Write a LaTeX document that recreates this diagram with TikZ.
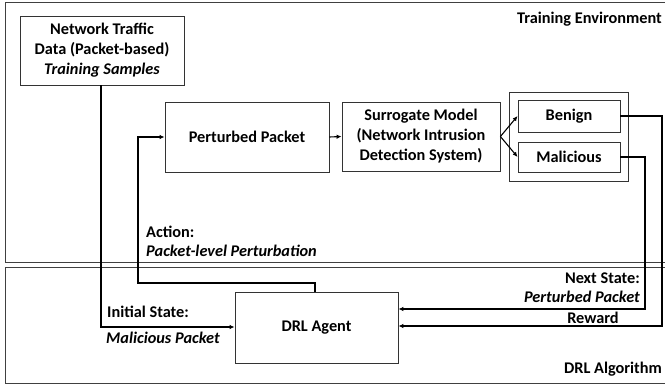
\documentclass[tikz,border=0pt]{standalone}
\usepackage{fontspec}
\setmainfont{Carlito}
\usetikzlibrary{arrows.meta}
\begin{document}
\begin{tikzpicture}[x=1pt,y=-1pt,
  box/.style={draw=black!80,line width=0.8pt,fill=white,inner sep=0pt},
  region/.style={draw=black!75,line width=0.8pt},
  conn/.style={line width=1.1pt,-{Latex[length=5pt,width=4.5pt]}},
  txt/.style={font=\bfseries\fontsize{16.3}{20}\selectfont,align=center,inner sep=0pt},
  lbl/.style={font=\bfseries\fontsize{16.3}{20}\selectfont,inner sep=0pt}]
\useasboundingbox (0,0) rectangle (665,386);
\clip (0,0) rectangle (665,386);

% the two regions
\draw[region] (5,2) rectangle (700,262);
\draw[region] (5,267) rectangle (700,383);
\node[lbl,anchor=east] (envlbl) at (662,19) {Training Environment};
\node[lbl,anchor=east] (alglbl) at (662,369) {DRL Algorithm};

% boxes
\node[box,minimum width=164pt,minimum height=69pt] (data) at (102,50.5) {};
\node[txt] at (data.center) {Network Traffic\\Data (Packet-based)\\\textit{Training Samples}};
\node[box,minimum width=164pt,minimum height=70pt] (pert) at (247,137) {};
\node[txt] at (pert.center) {Perturbed Packet};
\node[box,minimum width=158pt,minimum height=69pt] (surr) at (421,136.5) {};
\node[txt] at (surr.center) {Surrogate Model\\(Network Intrusion\\Detection System)};
\node[box,minimum width=119pt,minimum height=89pt] (cls) at (568.5,136.5) {};
\node[box,minimum width=102pt,minimum height=32pt] (benign) at (569,116) {};
\node[txt] at (benign.center) {Benign};
\node[box,minimum width=102pt,minimum height=30pt] (mal) at (569,157) {};
\node[txt] at (mal.center) {Malicious};
\node[box,minimum width=163pt,minimum height=71pt] (agent) at (316.5,327.5) {};
\node[txt] at (agent.center) {DRL Agent};

% turning points of the connectors
\coordinate (d1) at (101,327);
\coordinate (a1) at (315,283);
\coordinate (a2) at (138,283);
\coordinate (a3) at (138,137);
\coordinate (b1) at (662,116);
\coordinate (b2) at (662,326);
\coordinate (m1) at (645,157);
\coordinate (m2) at (645,309);

% connectors
\draw[conn] (data.south -| d1) -- (d1) -- (agent.west |- d1);
\draw[conn] (agent.north -| a1) -- (a1) -- (a2) -- (a3) -- (pert.west |- a3);
\draw[conn] (pert.east) -- (surr.west);
\draw[conn] (surr.east) -- (benign.west);
\draw[conn] (surr.east) -- (mal.west);
\draw[conn] (benign.east) -- (b1) -- (b2) -- (agent.east |- b2);
\draw[conn] (mal.east) -- (m1) -- (m2) -- (agent.east |- m2);

% connector labels
\node[lbl,anchor=west] (act1) at (146,232) {Action:};
\node[lbl,anchor=west] (act2) at (146,251) {\itshape Packet-level Perturbation};
\node[lbl,anchor=west] (ini1) at (107,312) {Initial State:};
\node[lbl,anchor=west] (ini2) at (106,338) {\itshape Malicious Packet};
\node[lbl,anchor=east] (nxt1) at (640,278) {Next State:};
\node[lbl,anchor=east] (nxt2) at (640,297) {\itshape Perturbed Packet};
\node[lbl] (rew) at (593,318) {Reward};
\end{tikzpicture}
\end{document}
